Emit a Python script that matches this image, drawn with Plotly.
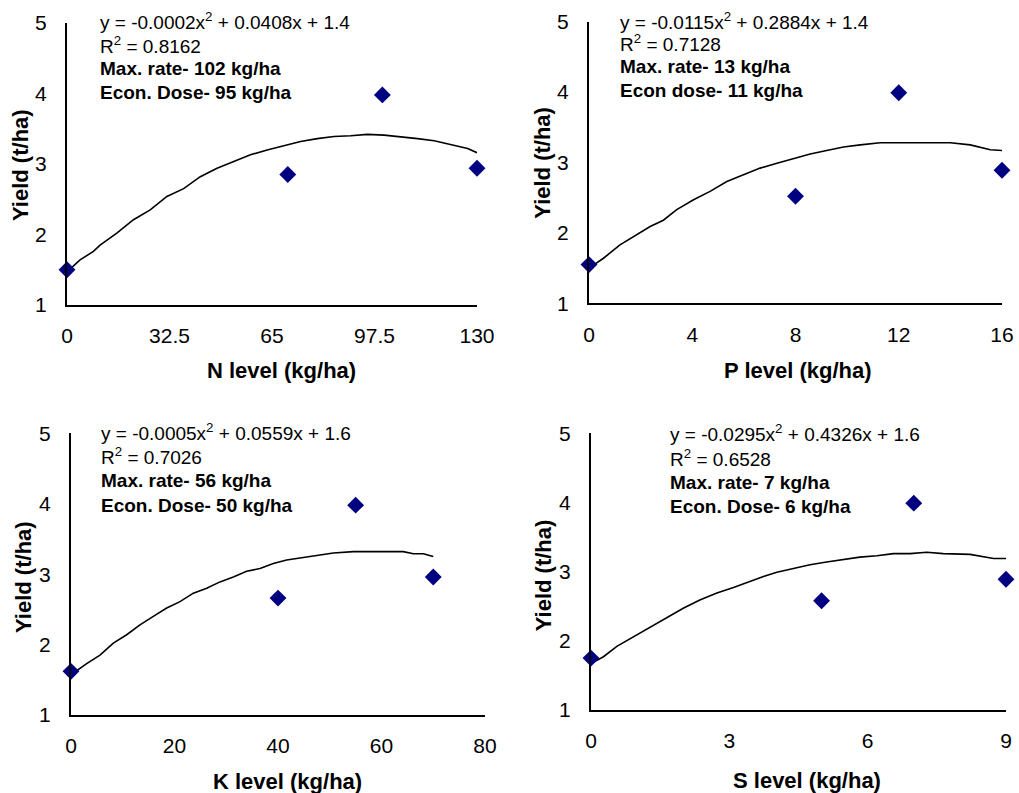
import plotly.graph_objects as go

# ---- data ----
n_x = [0, 70, 100, 130]
n_y = [1.5, 2.85, 3.98, 2.94]
n_curve_x = [0, 4.13, 8.37, 10.49, 15.79, 21.08, 26.38, 31.68, 36.98, 42.27, 47.57, 52.87, 58.17,
             63.46, 68.76, 74.06, 79.36, 84.65, 89.95, 95.25, 100.55, 105.85, 111.14, 116.44,
             121.74, 127.03, 130]
n_curve_y = [1.47, 1.64, 1.76, 1.85, 2.02, 2.21, 2.35, 2.54, 2.65, 2.82, 2.94, 3.03, 3.13,
             3.20, 3.26, 3.32, 3.36, 3.39, 3.40, 3.42, 3.41, 3.39, 3.36, 3.33,
             3.28, 3.22, 3.16]

p_x = [0, 8, 12, 16]
p_y = [1.55, 2.52, 3.99, 2.89]
p_curve_x = [0, 0.56, 1.20, 1.85, 2.37, 2.88, 3.40, 4.05, 4.69, 5.34, 5.98, 6.63, 7.28, 7.92,
             8.57, 9.21, 9.86, 10.51, 11.28, 14.0, 14.77, 15.55, 16.0]
p_curve_y = [1.50, 1.64, 1.83, 1.97, 2.09, 2.18, 2.33, 2.47, 2.59, 2.73, 2.82, 2.92, 2.99, 3.06,
             3.12, 3.17, 3.22, 3.25, 3.28, 3.28, 3.25, 3.18, 3.17]

k_x = [0, 40, 55, 70]
k_y = [1.62, 2.66, 3.98, 2.96]
k_curve_x = [0, 3.03, 5.60, 8.18, 10.76, 13.33, 15.91, 18.49, 21.06, 23.64, 26.22, 28.79, 31.37,
             33.94, 36.52, 39.10, 41.67, 44.25, 47.47, 50.69, 54.56, 64.22, 66.15, 68.08, 70]
k_curve_y = [1.57, 1.73, 1.85, 2.02, 2.14, 2.28, 2.40, 2.52, 2.61, 2.73, 2.80, 2.89, 2.96,
             3.04, 3.08, 3.15, 3.20, 3.23, 3.26, 3.30, 3.32, 3.32, 3.29, 3.29, 3.25]

s_x = [0, 5, 7, 9]
s_y = [1.75, 2.58, 3.99, 2.89]
s_curve_x = [0, 0.27, 0.56, 0.92, 1.28, 1.64, 2.00, 2.36, 2.73, 3.09, 3.45, 3.74, 4.03, 4.39,
             4.75, 5.11, 5.47, 5.83, 6.20, 6.56, 6.92, 7.28, 7.64, 8.22, 8.73, 9.0]
s_curve_y = [1.67, 1.77, 1.92, 2.06, 2.20, 2.33, 2.47, 2.59, 2.69, 2.77, 2.86, 2.93, 2.99, 3.05,
             3.10, 3.14, 3.18, 3.21, 3.23, 3.26, 3.26, 3.28, 3.26, 3.25, 3.19, 3.19]

n_ticks = [0, 32.5, 65, 97.5, 130]
p_ticks = [0, 4, 8, 12, 16]
k_ticks = [0, 20, 40, 60, 80]
s_ticks = [0, 3, 6, 9]
y_ticks = [1, 2, 3, 4, 5]

panels = [
    dict(x=n_x, y=n_y, cx=n_curve_x, cy=n_curve_y, ticks=n_ticks, xr=[0, 130],
         xtitle="N level (kg/ha)",
         lines=["y = -0.0002x<sup>2</sup> + 0.0408x + 1.4", "R<sup>2</sup> = 0.8162",
                "<b>Max. rate- 102 kg/ha</b>", "<b>Econ. Dose- 95 kg/ha</b>"]),
    dict(x=p_x, y=p_y, cx=p_curve_x, cy=p_curve_y, ticks=p_ticks, xr=[0, 16],
         xtitle="P level (kg/ha)",
         lines=["y = -0.0115x<sup>2</sup> + 0.2884x + 1.4", "R<sup>2</sup> = 0.7128",
                "<b>Max. rate- 13 kg/ha</b>", "<b>Econ dose- 11 kg/ha</b>"]),
    dict(x=k_x, y=k_y, cx=k_curve_x, cy=k_curve_y, ticks=k_ticks, xr=[0, 80],
         xtitle="K level (kg/ha)",
         lines=["y = -0.0005x<sup>2</sup> + 0.0559x + 1.6", "R<sup>2</sup> = 0.7026",
                "<b>Max. rate- 56 kg/ha</b>", "<b>Econ. Dose- 50 kg/ha</b>"]),
    dict(x=s_x, y=s_y, cx=s_curve_x, cy=s_curve_y, ticks=s_ticks, xr=[0, 9],
         xtitle="S level (kg/ha)",
         lines=["y = -0.0295x<sup>2</sup> + 0.4326x + 1.6", "R<sup>2</sup> = 0.6528",
                "<b>Max. rate- 7 kg/ha</b>", "<b>Econ. Dose- 6 kg/ha</b>"]),
]

W, H = 1019, 793
# pixel geometry: (left, right, top, bottom) of plot areas
geom = [(67, 477, 23, 305), (589, 1002, 21.7, 303.3), (71, 485, 433.3, 715), (591, 1006, 433.3, 710)]
ann_pos = [(97.5, [20.7, 44.5, 68.5, 92.7]), (617.5, [20.7, 43, 66.7, 90.7]),
           (99, [432.3, 456, 480, 505]), (667.5, [433.3, 458.3, 482.3, 506.7])]
xtitle_pos = [(281, 370), (797.5, 370), (287, 781), (807, 780)]
ytitle_pos = [(20, 165), (541.7, 163), (23.3, 576.7), (543.3, 575)]

FONT = "Liberation Sans, Arial, sans-serif"
fig = go.Figure()
annotations = []
for i, p in enumerate(panels):
    sfx = "" if i == 0 else str(i + 1)
    xa, ya = "x" + sfx, "y" + sfx
    fig.add_trace(go.Scatter(x=p["cx"], y=p["cy"], mode="lines",
                             line=dict(color="black", width=1.6),
                             xaxis=xa, yaxis=ya, showlegend=False, cliponaxis=False))
    fig.add_trace(go.Scatter(x=p["x"], y=p["y"], mode="markers",
                             marker=dict(symbol="diamond", size=13, color="#000080"),
                             xaxis=xa, yaxis=ya, showlegend=False, cliponaxis=False))
    l, r, t, b = geom[i]
    axcommon = dict(showgrid=False, zeroline=False, showline=True, linecolor="black",
                    linewidth=2, ticks="", automargin=False,
                    tickfont=dict(family=FONT, size=21, color="black"))
    fig.layout["xaxis" + sfx] = dict(domain=[l / W, r / W], range=p["xr"], anchor=ya,
                                     tickmode="array", tickvals=p["ticks"],
                                     ticktext=[str(v) for v in p["ticks"]],
                                     ticklabelstandoff=11, **axcommon)
    fig.layout["yaxis" + sfx] = dict(domain=[1 - b / H, 1 - t / H], range=[1, 5], anchor=xa,
                                     tickmode="array", tickvals=y_ticks,
                                     ticklabelstandoff=14, **axcommon)
    ax_, ys = ann_pos[i]
    for txt, yy in zip(p["lines"], ys):
        annotations.append(dict(x=ax_ / W, y=1 - yy / H, xref="paper", yref="paper",
                                xanchor="left", yanchor="middle", showarrow=False, text=txt,
                                font=dict(family=FONT, size=19, color="black")))
    tx, ty = xtitle_pos[i]
    annotations.append(dict(x=tx / W, y=1 - ty / H, xref="paper", yref="paper",
                            xanchor="center", yanchor="middle", showarrow=False,
                            text="<b>" + p["xtitle"] + "</b>",
                            font=dict(family=FONT, size=22, color="black")))
    tx, ty = ytitle_pos[i]
    annotations.append(dict(x=tx / W, y=1 - ty / H, xref="paper", yref="paper",
                            xanchor="center", yanchor="middle", showarrow=False, textangle=-90,
                            text="<b>Yield (t/ha)</b>",
                            font=dict(family=FONT, size=22, color="black")))

fig.update_layout(width=W, height=H, margin=dict(l=0, r=0, t=0, b=0, pad=0, autoexpand=False),
                  paper_bgcolor="white", plot_bgcolor="white",
                  annotations=annotations, showlegend=False)
fig.write_html("out.html")
